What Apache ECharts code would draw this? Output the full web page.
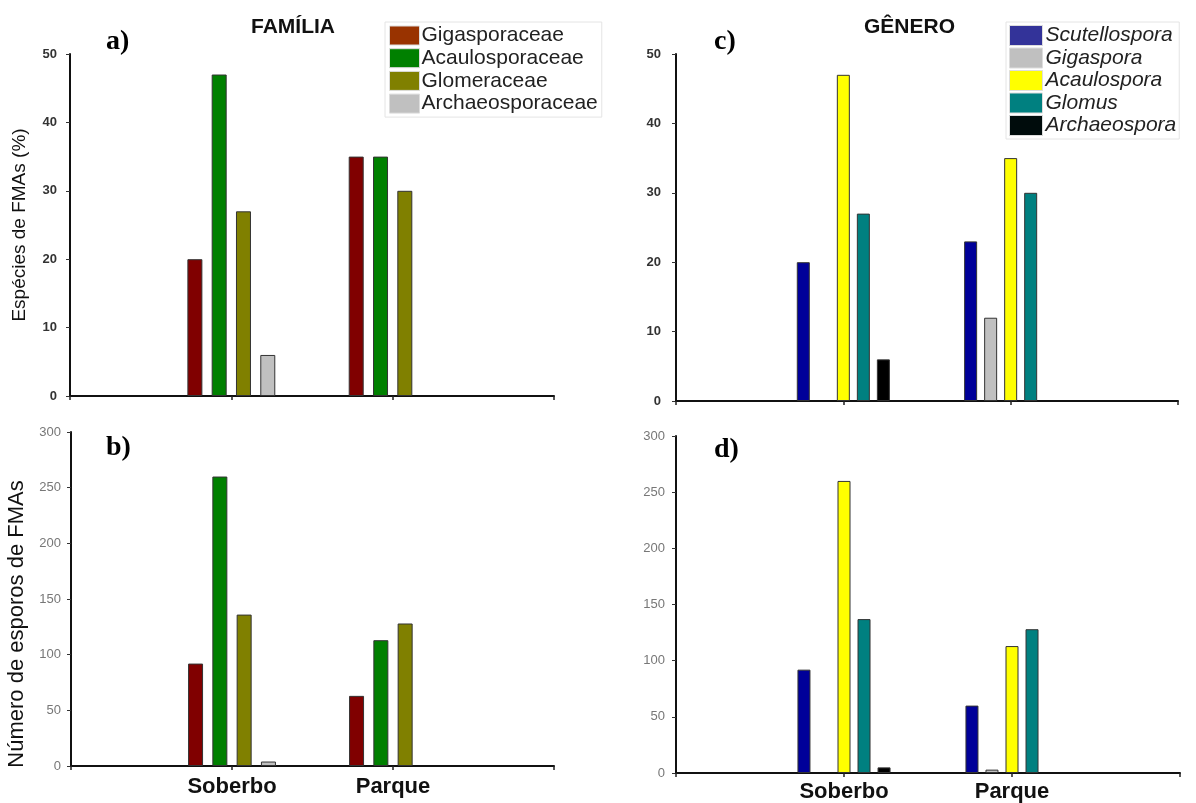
<!DOCTYPE html>
<html><head><meta charset="utf-8">
<script src="https://cdn.jsdelivr.net/npm/echarts@6/dist/echarts.min.js"></script>
<style>html,body{margin:0;padding:0;background:#fff}#c{width:1196px;height:803px}</style>
</head><body><div id="c"></div>
<script>
const categories = ['', 'Soberbo', 'Parque', ''];
// Panel a: % species by family
const famNames = ['Gigasporaceae', 'Acaulosporaceae', 'Glomeraceae', 'Archaeosporaceae'];
const famColors = ['#800000', '#008000', '#808000', '#c0c0c0'];
const famLegendColors = ['#993300', '#008000', '#808000', '#c0c0c0'];
const famPct_Gigasporaceae = [null, 20, 35, null];
const famPct_Acaulosporaceae = [null, 47, 35, null];
const famPct_Glomeraceae = [null, 27, 30, null];
const famPct_Archaeosporaceae = [null, 6, null, null];
// Panel b: spore counts by family
const famSp_Gigasporaceae = [null, 92, 63, null];
const famSp_Acaulosporaceae = [null, 260, 113, null];
const famSp_Glomeraceae = [null, 136, 128, null];
const famSp_Archaeosporaceae = [null, 4, null, null];
// Panel c: % species by genus
const genNames = ['Scutellospora', 'Gigaspora', 'Acaulospora', 'Glomus', 'Archaeospora'];
const genColors = ['#000099', '#c0c0c0', '#ffff00', '#008080', '#000000'];
const genLegendColors = ['#333399', '#c0c0c0', '#ffff00', '#008080', '#000c0c'];
const genPct_Scutellospora = [null, 20, 23, null];
const genPct_Gigaspora = [null, null, 12, null];
const genPct_Acaulospora = [null, 47, 35, null];
const genPct_Glomus = [null, 27, 30, null];
const genPct_Archaeospora = [null, 6, null, null];
// Panel d: spore counts by genus
const genSp_Scutellospora = [null, 92, 60, null];
const genSp_Gigaspora = [null, null, 3, null];
const genSp_Acaulospora = [null, 260, 113, null];
const genSp_Glomus = [null, 137, 128, null];
const genSp_Archaeospora = [null, 5, null, null];

const pctTicks = {min: 0, max: 50, interval: 10};
const spTicks = {min: 0, max: 300, interval: 50};

const famPct = [famPct_Gigasporaceae, famPct_Acaulosporaceae, famPct_Glomeraceae, famPct_Archaeosporaceae];
const famSp = [famSp_Gigasporaceae, famSp_Acaulosporaceae, famSp_Glomeraceae, famSp_Archaeosporaceae];
const genPct = [genPct_Scutellospora, genPct_Gigaspora, genPct_Acaulospora, genPct_Glomus, genPct_Archaeospora];
const genSp = [genSp_Scutellospora, genSp_Gigaspora, genSp_Acaulospora, genSp_Glomus, genSp_Archaeospora];

const sans = 'Arial, Liberation Sans, sans-serif';
const axisLine = {show: true, lineStyle: {color: '#111', width: 2}};
function xAxis(gi, showLabels, margin) {
  return {
    type: 'category', gridIndex: gi, data: categories, boundaryGap: false,
    axisLine: axisLine,
    axisTick: {show: true, length: 4, lineStyle: {color: '#222', width: 1.5}},
    axisLabel: {show: showLabels, interval: 0, margin: margin, fontFamily: sans,
      fontSize: 22, fontWeight: 'bold', color: '#111'},
    splitLine: {show: false}
  };
}
function yAxis(gi, t, bold, margin, name, nameGap, namePad, nameSize) {
  return {
    type: 'value', gridIndex: gi, min: t.min, max: t.max, interval: t.interval,
    axisLine: axisLine,
    axisTick: {show: true, length: 4, lineStyle: {color: '#333'}},
    splitLine: {show: false},
    axisLabel: {fontSize: 13, margin: margin, fontFamily: bold ? 'Liberation Sans Narrow, Arial, sans-serif' : sans,
      fontWeight: bold ? 'bold' : 'normal', color: bold ? '#333' : '#777'},
    name: name, nameLocation: 'middle', nameGap: nameGap, nameRotate: 90,
    nameTextStyle: {fontSize: nameSize, color: '#111', fontFamily: sans, padding: namePad}
  };
}
const series = [];
function addBars(names, colors, datas, gi, bw, gap) {
  names.forEach((n, i) => {
    series.push({
      type: 'bar', name: n, xAxisIndex: gi, yAxisIndex: gi, data: datas[i],
      barWidth: bw, barGap: gap,
      itemStyle: {color: colors[i], borderColor: '#333', borderWidth: 1}
    });
  });
}
addBars(famNames, famColors, famPct, 0, 15, '62%');
addBars(famNames, famColors, famSp, 1, 15, '62%');
addBars(genNames, genColors, genPct, 2, 13, '54%');
addBars(genNames, genColors, genSp, 3, 13, '54%');

const serif = 'Liberation Serif, DejaVu Serif, serif';
const letterStyle = {fontSize: 28, fontWeight: 'bold', color: '#000', fontFamily: serif};
const headStyle = {fontSize: 21, fontWeight: 'bold', color: '#111', fontFamily: sans};
const option = {
  animation: false,
  backgroundColor: '#fff',
  title: [
    {text: 'FAMÍLIA', left: 246, top: 12, textStyle: headStyle},
    {text: 'GÊNERO', left: 859, top: 12, textStyle: headStyle},
    {text: 'a)', left: 101, top: 23, textStyle: letterStyle},
    {text: 'b)', left: 101, top: 429, textStyle: letterStyle},
    {text: 'c)', left: 709, top: 23, textStyle: letterStyle},
    {text: 'd)', left: 709, top: 431, textStyle: letterStyle}
  ],
  legend: [
    {orient: 'vertical', left: 385, top: 22, padding: [3, 4, 3, 4], itemWidth: 30, itemHeight: 19, itemGap: 1.7,
      borderColor: '#e4e4e4', borderWidth: 1,
      icon: 'rect', selectedMode: false,
      data: famNames.map((n, i) => ({name: n, itemStyle: {color: famLegendColors[i], borderColor: '#ddd', borderWidth: 1}})),
      textStyle: {fontSize: 21, lineHeight: 19, color: '#222', fontFamily: sans, padding: [0, 0, 0, -3]}},
    {orient: 'vertical', left: 1006, top: 22, padding: [3, 3, 3, 3], itemWidth: 33, itemHeight: 20, itemGap: 1.5,
      borderColor: '#e4e4e4', borderWidth: 1,
      icon: 'rect', selectedMode: false,
      data: genNames.map((n, i) => ({name: n, itemStyle: {color: genLegendColors[i], borderColor: '#ddd', borderWidth: 1}})),
      textStyle: {fontSize: 21, lineHeight: 20, color: '#222', fontStyle: 'italic', fontFamily: sans, padding: [0, 0, 0, -2]}}
  ],
  grid: [
    {left: 70, top: 54, width: 484, height: 342},
    {left: 71, top: 432, width: 483, height: 334},
    {left: 676, top: 54, width: 502, height: 347},
    {left: 676, top: 436, width: 504, height: 337}
  ],
  xAxis: [xAxis(0, false, 8), xAxis(1, true, 10), xAxis(2, false, 8), xAxis(3, true, 8)],
  yAxis: [
    yAxis(0, pctTicks, true, 13, 'Espécies de FMAs (%)', 41, [0, 0, 0, 0], 19),
    yAxis(1, spTicks, false, 10, 'Número de esporos de FMAs', 43, [0, 50, 0, 0], 22),
    yAxis(2, pctTicks, true, 15, '', 30, 0, 19),
    yAxis(3, spTicks, false, 11, '', 30, 0, 19)
  ],
  series: series
};
const chart = echarts.init(document.getElementById('c'), null, {renderer: 'canvas'});
chart.setOption(option);
</script>
</body></html>
